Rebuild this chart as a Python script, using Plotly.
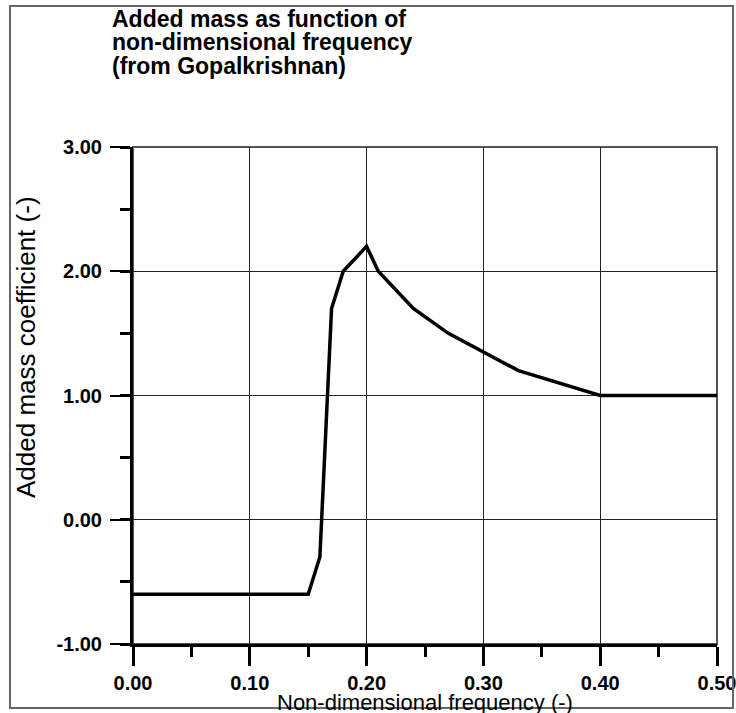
import plotly.graph_objects as go

# ---- data ----
freq = [0.00, 0.15, 0.16, 0.17, 0.18, 0.20, 0.21, 0.24, 0.27, 0.33, 0.40, 0.50]
added_mass = [-0.60, -0.60, -0.30, 1.70, 2.00, 2.20, 2.00, 1.70, 1.50, 1.20, 1.00, 1.00]

x_ticks = [0.0, 0.1, 0.2, 0.3, 0.4, 0.5]
x_tick_labels = ["0.00", "0.10", "0.20", "0.30", "0.40", "0.50"]
y_ticks = [-1, 0, 1, 2, 3]
y_tick_labels = ["-1.00", "0.00", "1.00", "2.00", "3.00"]

title_lines = ["Added mass as function of", "non-dimensional frequency", "(from Gopalkrishnan)"]
x_title = "Non-dimensional frequency (-)"
y_title = "Added mass coefficient (-)"

# ---- layout geometry (page pixels; body margin removed below) ----
W, H = 736, 713
L, R, T, B = 133, 717, 147, 644


def px2x(px):
    return (px - L) / (R - L)


def py2y(py):
    return (B - py) / (B - T)


FONT = "Liberation Sans, Arial, sans-serif"

fig = go.Figure()
fig.add_trace(go.Scatter(x=freq, y=added_mass, mode="lines",
                         line=dict(color="black", width=3.5), showlegend=False,
                         hoverinfo="skip"))

fig.update_layout(
    width=W, height=H,
    margin=dict(l=L, r=W - R, t=T, b=H - B, autoexpand=False),
    paper_bgcolor="white", plot_bgcolor="white",
    font=dict(family=FONT, color="black"),
)

fig.update_xaxes(
    range=[0, 0.5], tickvals=x_ticks, ticktext=x_tick_labels,
    ticks="outside", ticklen=19, tickwidth=3, tickcolor="black",
    minor=dict(dtick=0.05, ticks="outside", ticklen=10, tickwidth=3, tickcolor="black", showgrid=False),
    showgrid=True, gridcolor="#222", gridwidth=1,
    showline=True, linecolor="black", linewidth=3,
    zeroline=False, automargin=False, ticklabeloverflow="allow",
    tickfont=dict(family=FONT, size=20, color="black", weight="bold"),
)
fig.update_yaxes(
    range=[-1, 3], tickvals=y_ticks, ticktext=y_tick_labels,
    ticks="outside", ticklen=20, tickwidth=2, tickcolor="black",
    minor=dict(dtick=0.5, ticks="outside", ticklen=10, tickwidth=3, tickcolor="black", showgrid=False),
    showgrid=True, gridcolor="#222", gridwidth=1,
    showline=True, linecolor="black", linewidth=3,
    zeroline=False, automargin=False, ticklabelstandoff=4, ticklabeloverflow="allow",
    tickfont=dict(family=FONT, size=20, color="black", weight="bold"),
)

# plot border (top/right) in gray
fig.add_shape(type="rect", xref="paper", yref="paper", x0=0, x1=1, y0=0, y1=1,
              line=dict(color="#555", width=2), layer="below")
# outer frame
fig.add_shape(type="rect", xref="paper", yref="paper",
              x0=px2x(10), x1=px2x(733), y0=py2y(708), y1=py2y(6),
              line=dict(color="#666", width=2))

title_mid = [19.5, 42.5, 65.5]
for txt, ym in zip(title_lines, title_mid):
    fig.add_annotation(text=txt, xref="paper", yref="paper", x=px2x(110), y=py2y(ym),
                       xanchor="left", yanchor="middle", showarrow=False,
                       font=dict(family=FONT, size=23, color="black", weight="bold"))

fig.add_annotation(text=x_title, xref="paper", yref="paper", x=0.5, y=py2y(702),
                   xanchor="center", yanchor="middle", showarrow=False,
                   font=dict(family=FONT, size=22, color="black"))
fig.add_annotation(text=y_title, xref="paper", yref="paper", x=px2x(26), y=py2y(347),
                   xanchor="center", yanchor="middle", showarrow=False, textangle=-90,
                   font=dict(family=FONT, size=26, color="black"))

fig.write_html("out.html", config={"displayModeBar": False, "staticPlot": True},
               post_script="document.body.style.margin='0px';")
